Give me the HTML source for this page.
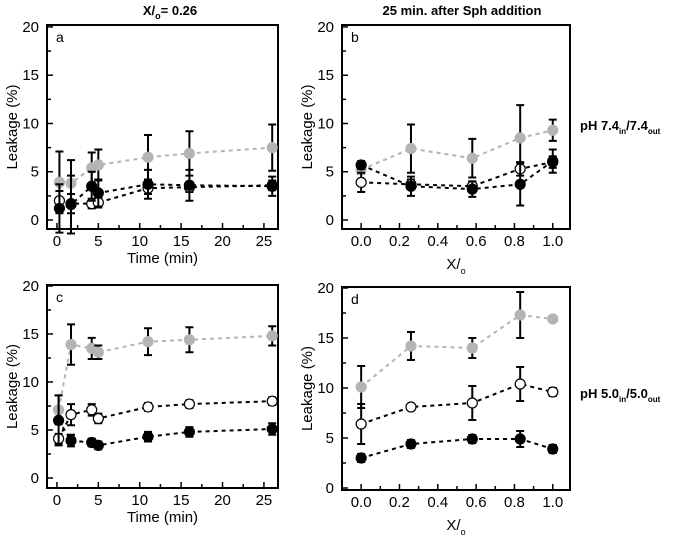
<!DOCTYPE html>
<html><head><meta charset="utf-8"><style>
body{margin:0;background:#fff;}
svg{display:block;font-family:"Liberation Sans",Arial,sans-serif;}
</style></head><body>
<svg id="fig" width="675" height="540" viewBox="0 0 675 540">
<text x="170" y="15" text-anchor="middle" font-weight="bold" font-size="13">X/<tspan font-size="9" dy="4">o</tspan><tspan dy="-4">= 0.26</tspan></text>
<text x="462" y="15" text-anchor="middle" font-weight="bold" font-size="13">25 min. after Sph addition</text>
<text x="580" y="130" font-weight="bold" font-size="13">pH 7.4<tspan font-size="8" dy="4">in</tspan><tspan dy="-4">/7.4</tspan><tspan font-size="8" dy="4">out</tspan></text>
<text x="580" y="398" font-weight="bold" font-size="13">pH 5.0<tspan font-size="8" dy="4">in</tspan><tspan dy="-4">/5.0</tspan><tspan font-size="8" dy="4">out</tspan></text>
</svg>
<script>
// time values (min)
const timeA=[0.3,1.7,4.2,5,11,16,26];
const xoVals=[0,0.26,0.58,0.83,1.0];
// panel a
const aGray=[3.9,3.8,5.4,5.7,6.5,6.9,7.5], aGrayErr=[3.2,2.4,1.6,1.6,2.3,2.3,2.4];
const aOpen=[2.0,1.7,1.7,1.8,3.3,3.4,3.6], aOpenErr=[1.0,1.0,0.5,0.5,0.6,0.5,0.5];
const aFill=[1.2,1.6,3.5,2.8,3.7,3.6,3.5], aFillErr=[2.5,3.0,1.5,1.4,1.5,1.6,1.0];
// panel b
const bGray=[5.2,7.4,6.4,8.5,9.3], bGrayErr=[0.4,2.5,2.0,3.4,1.1];
const bOpen=[3.9,3.7,3.5,5.3,6.0], bOpenErr=[1.0,0.5,0.5,0.7,0.6];
const bFill=[5.7,3.5,3.2,3.7,6.1], bFillErr=[0.4,1.0,0.8,2.2,1.2];
// panel c
const cTime=[0.2,1.7,4.2,5,11,16,26];
const cGray=[7.1,13.9,13.5,13.1,14.2,14.4,14.8], cGrayErr=[1.5,2.1,1.1,0.7,1.4,1.3,1.0];
const cOpen=[4.1,6.6,7.1,6.2,7.4,7.7,8.0], cOpenErr=[0.5,1.1,0.6,0.5,0.4,0.4,0.4];
const cFill=[6.0,3.9,3.7,3.4,4.3,4.8,5.1], cFillErr=[2.6,0.6,0.4,0.4,0.5,0.5,0.6];
// panel d
const dGray=[10.1,14.2,14.0,17.3,16.9], dGrayErr=[2.1,1.4,1.0,2.3,0.3];
const dOpen=[6.4,8.1,8.5,10.4,9.6], dOpenErr=[2.0,0.3,1.7,1.7,0.4];
const dFill=[3.0,4.4,4.9,4.9,3.9], dFillErr=[0.4,0.4,0.4,0.8,0.4];
const yTicks=[0,5,10,15,20];
const timeTicks=[0,5,10,15,20,25];
const xoTicks=[0,0.2,0.4,0.6,0.8,1.0];

const NS='http://www.w3.org/2000/svg';
const svg=document.getElementById('fig');
function mk(tag,attrs,parent){const e=document.createElementNS(NS,tag);for(const k in attrs)e.setAttribute(k,attrs[k]);(parent||svg).appendChild(e);return e;}

function panel(p){
  const g=mk('g',{});
  
  
  const sx=v=>p.L+(v-p.x0)/(p.x1-p.x0)*(p.R-p.L);
  const sy=v=>p.B-(v-p.y0)/(p.y1-p.y0)*(p.B-p.T);
  // ticks
  for(let v=0;v<=20.001;v+=2.5){const y=sy(v);const major=Math.abs(v%5)<1e-6;
    const t=mk('line',{x1:p.L,x2:p.L+(major?6:4),y1:y,y2:y,stroke:'#000','stroke-width':1.5},g);
    }
  yTicks.forEach(v=>{const t=mk('text',{x:p.L-8,y:sy(v)+5,'text-anchor':'end','font-size':15},g);t.textContent=v;
    });
  for(let v=p.mStart;v<=p.x1+1e-6;v+=p.mStep){if(v<p.x0)continue;const x=sx(v);const major=Math.abs(Math.round(v/p.mStep)%2)===0;
    const t=mk('line',{x1:x,x2:x,y1:p.B,y2:p.B-(major?6:4),stroke:'#000','stroke-width':1.5},g);
    }
  p.xt.forEach(v=>{const t=mk('text',{x:sx(v),y:p.B+17,'text-anchor':'middle','font-size':15},g);t.textContent=p.fmt(v);
    });
  const fr=mk('rect',{x:p.L,y:p.T,width:p.R-p.L,height:p.B-p.T,fill:'none',stroke:'#000','stroke-width':2},g);
  
  const yl=mk('text',{x:0,y:0,'text-anchor':'middle','font-size':15,transform:`translate(${p.L-30},${(p.T+p.B)/2}) rotate(-90)`},g);
  yl.textContent='Leakage (%)';
  if(p.xlabel==='time'){const t=mk('text',{x:(p.L+p.R)/2,y:p.B+34,'text-anchor':'middle','font-size':15},g);t.textContent='Time (min)';
    }
  else{const t=mk('text',{x:(p.L+p.R)/2,y:p.B+40,'text-anchor':'middle','font-size':15},g);t.innerHTML='X/<tspan font-size="9" dy="5">o</tspan>';
    }
  const lt=mk('text',{x:p.L+9,y:p.T+17,'font-size':14},g);lt.textContent=p.id;
  
  p.series.forEach(s=>{
    const pts=p.xs.map((x,i)=>sx(x)+','+sy(s.v[i])).join(' ');
    const l=mk('polyline',{points:pts,fill:'none',stroke:s.line,'stroke-width':2,'stroke-dasharray':'4,4'},g);
    
  });
  p.series.forEach(s=>{
    p.xs.forEach((x,i)=>{const cx=sx(x),y1=sy(s.v[i]+s.e[i]),y2=sy(s.v[i]-s.e[i]);
      const e=mk('path',{d:`M${cx},${y1}V${y2}M${cx-4},${y1}H${cx+4}M${cx-4},${y2}H${cx+4}`,stroke:'#000','stroke-width':2,fill:'none'},g);
      
      const c=mk('circle',{cx:cx,cy:sy(s.v[i]),r:5,fill:s.fill,stroke:s.stroke,'stroke-width':1.2},g);
      
    });
  });
}
const gray='#b4b4b4';
function ser(gv,ge,ov,oe,fv,fe){return[
  {name:'gray',v:gv,e:ge,fill:gray,stroke:gray,line:gray},
  {name:'open',v:ov,e:oe,fill:'#fff',stroke:'#000',line:'#000'},
  {name:'filled',v:fv,e:fe,fill:'#000',stroke:'#000',line:'#000'}];}
const tf=v=>String(v), xf=v=>v.toFixed(1);
panel({id:'a',L:47,R:278,T:25,B:229,x0:-1.2,x1:26.7,y0:-0.93,y1:20.2,xs:timeA,xt:timeTicks,mStart:0,mStep:2.5,fmt:tf,xlabel:'time',series:ser(aGray,aGrayErr,aOpen,aOpenErr,aFill,aFillErr)});
panel({id:'b',L:342,R:570,T:25,B:229,x0:-0.1,x1:1.09,y0:-0.93,y1:20.2,xs:xoVals,xt:xoTicks,mStart:0,mStep:0.1,fmt:xf,xlabel:'xo',series:ser(bGray,bGrayErr,bOpen,bOpenErr,bFill,bFillErr)});
panel({id:'c',L:47,R:278,T:285,B:488,x0:-1.2,x1:26.7,y0:-1.04,y1:20.1,xs:cTime,xt:timeTicks,mStart:0,mStep:2.5,fmt:tf,xlabel:'time',series:ser(cGray,cGrayErr,cOpen,cOpenErr,cFill,cFillErr)});
panel({id:'d',L:342,R:570,T:287,B:490,x0:-0.1,x1:1.09,y0:-0.2,y1:20.1,xs:xoVals,xt:xoTicks,mStart:0,mStep:0.1,fmt:xf,xlabel:'xo',series:ser(dGray,dGrayErr,dOpen,dOpenErr,dFill,dFillErr)});
</script>
</body></html>
